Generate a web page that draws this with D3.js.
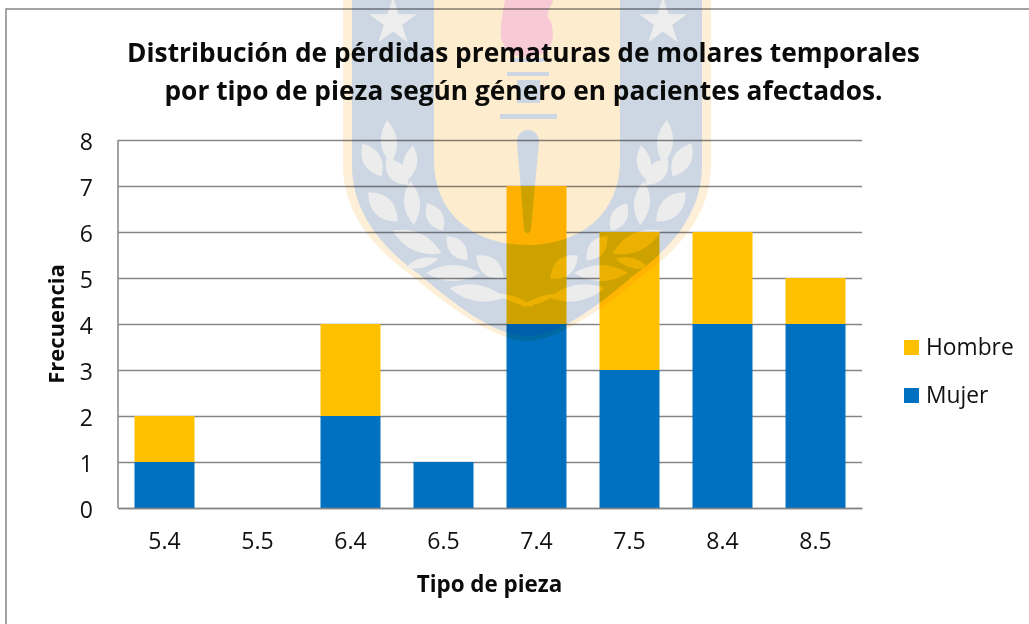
<!DOCTYPE html>
<html>
<head>
<meta charset="utf-8">
<script src="https://cdn.jsdelivr.net/npm/d3@7"></script>
<style>
  html, body { margin: 0; padding: 0; background: #fff; }
  svg { display: block; font-family: "Open Sans", sans-serif; }
</style>
</head>
<body>
<div id="chart"></div>
<script>
const categories = ["5.4", "5.5", "6.4", "6.5", "7.4", "7.5", "8.4", "8.5"];
const mujer = [1, 0, 2, 1, 4, 3, 4, 4];
const hombre = [1, 0, 2, 0, 3, 3, 2, 1];
const yTicks = [0, 1, 2, 3, 4, 5, 6, 7, 8];
const titleLines = ["Distribución de pérdidas prematuras de molares temporales", "por tipo de pieza según género en pacientes afectados."];

const width = 1029, height = 624;
const margin = { top: 140, right: 167, bottom: 116, left: 118 };
const innerW = width - margin.left - margin.right;
const innerH = height - margin.top - margin.bottom;

const colors = { Mujer: "#0070c0", Hombre: "#ffc000" };

const svg = d3.select("#chart").append("svg")
    .attr("width", width)
    .attr("height", height);

// chart frame
svg.append("path")
    .attr("d", "M1029,9H6V624")
    .attr("fill", "none")
    .attr("stroke", "#868686")
    .attr("stroke-width", 1.5);

const x = d3.scaleBand().domain(categories).range([0, innerW]).paddingInner(0.355).paddingOuter(0.1775);
const y = d3.scaleLinear().domain([0, 8]).range([innerH, 0]);

const g = svg.append("g").attr("transform", `translate(${margin.left},${margin.top})`);

// y axis with gridlines
const yAxis = g.append("g").call(d3.axisLeft(y).tickValues(yTicks).tickSize(-innerW).tickPadding(25));
yAxis.selectAll("line").attr("stroke", "#868686").attr("stroke-width", 1.5);
yAxis.select(".domain").attr("stroke", "#868686").attr("stroke-width", 1.5).attr("d", `M0,0V${innerH}`);
yAxis.selectAll("text").attr("font-size", 23).attr("font-family", "Open Sans").attr("fill", "#111").attr("dy", "0.4em");

const stackData = categories.map((c, i) => ({ cat: c, Mujer: mujer[i], Hombre: hombre[i] }));
const series = d3.stack().keys(["Mujer", "Hombre"])(stackData);

g.selectAll(".serie")
    .data(series)
    .enter().append("g")
    .attr("class", "serie")
    .attr("fill", d => colors[d.key])
    .selectAll("rect")
    .data(d => d)
    .enter().append("rect")
    .attr("x", d => x(d.data.cat))
    .attr("width", x.bandwidth())
    .attr("y", d => y(d[1]))
    .attr("height", d => y(d[0]) - y(d[1]));

// x axis
const xAxis = g.append("g")
    .attr("transform", `translate(0,${innerH})`)
    .call(d3.axisBottom(x).tickSize(0).tickPadding(25));
xAxis.select(".domain").attr("stroke", "#868686").attr("stroke-width", 1.5);
xAxis.selectAll("text").attr("font-size", 23).attr("font-family", "Open Sans").attr("fill", "#111");

// titles
svg.selectAll(".title")
    .data(titleLines)
    .enter().append("text")
    .attr("class", "title")
    .attr("x", 523.5)
    .attr("y", (d, i) => 62 + i * 38)
    .attr("text-anchor", "middle")
    .attr("font-size", 26.3)
    .attr("font-weight", 700)
    .attr("fill", "#0b0b0b")
    .text(d => d);

svg.append("text")
    .attr("x", 489.5).attr("y", 592)
    .attr("text-anchor", "middle")
    .attr("font-size", 22.4).attr("font-weight", 700).attr("fill", "#0b0b0b")
    .text("Tipo de pieza");

svg.append("text")
    .attr("transform", "translate(64,324) rotate(-90)")
    .attr("text-anchor", "middle")
    .attr("font-size", 22).attr("font-weight", 700).attr("fill", "#0b0b0b")
    .text("Frecuencia");

// legend
const legendItems = ["Hombre", "Mujer"];
const legend = svg.selectAll(".legend")
    .data(legendItems)
    .enter().append("g")
    .attr("class", "legend")
    .attr("transform", (d, i) => `translate(904,${340 + i * 48})`);
legend.append("rect").attr("width", 15).attr("height", 15).attr("fill", d => colors[d]);
legend.append("text")
    .attr("x", 22).attr("y", 15)
    .attr("font-size", 22.8).attr("fill", "#111")
    .text(d => d);

// watermark crest laid over the chart
const mark = svg.append("g").style("mix-blend-mode", "multiply").attr("pointer-events", "none");
const cx = 527;
const shieldEdge = (l, r, b) => `M${l},0V165C${l},215 ${l + 33},250 ${l + 68},275C${l + 103},305 ${cx - 32},${b} ${cx},${b}` +
    `C${cx + 32},${b} ${r - 103},305 ${r - 68},275C${r - 33},250 ${r},215 ${r},165V0Z`;
mark.append("path").attr("d", shieldEdge(343, 711, 341)).attr("fill", "#fef0d8");
mark.append("path").attr("d", shieldEdge(352, 702, 336)).attr("fill", "#cdd7e4");
mark.append("path")
    .attr("d", `M434,0V160C434,215 475,245 ${cx},245C579,245 620,215 620,160V0Z`)
    .attr("fill", "#feecce");

// stars
const star = d3.symbol().type(d3.symbolStar).size(700);
[393, 663].forEach(sx => {
    mark.append("path").attr("d", star()).attr("transform", `translate(${sx},22)`).attr("fill", "#ededed");
});

// flame and torch
mark.append("path")
    .attr("d", "M505,0C502,15 500,30 501,38C505,52 515,58 527,57C540,58 552,50 553,35C553,25 550,18 548,18C546,10 553,5 553,0Z")
    .attr("fill", "#f7cad5");
mark.append("path").attr("d", "M510,58H546L543,62H513Z").attr("fill", "#cdd7e4");
mark.append("path").attr("d", "M507,72H549V76H507Z").attr("fill", "#cdd7e4");
mark.append("path").attr("d", "M517,80H540V103H517Z").attr("fill", "#cdd7e4");
mark.append("path").attr("d", "M500,114H557V119H500Z").attr("fill", "#cdd7e4");
mark.append("path")
    .attr("d", "M517,142C517,126 539,126 539,142L531,228C531,235 524,235 524,228Z")
    .attr("fill", "#cdd7e4");

// laurel leaves on the left, as [dx from centre, y, half length, half width, angle]
const leavesLeft = [
    [-138, 142, 22, 8, 85], [-155, 160, 19, 9, 60], [-130, 172, 17, 9, 50], [-117, 163, 18, 7, 100],
    [-144, 207, 21, 10, 45], [-115, 203, 22, 8, 85], [-92, 217, 16, 8, 60], [-110, 242, 27, 9, 25],
    [-70, 248, 16, 8, 50], [-105, 263, 17, 5, -15], [-74, 273, 27, 8, 0], [-37, 267, 18, 9, 40],
    [-50, 293, 28, 8, 10], [-12, 300, 20, 3, 20]
];
const leaves = leavesLeft.concat(leavesLeft.map(d => [-d[0], d[1], d[2], d[3], 180 - d[4]]));
mark.selectAll(".leaf")
    .data(leaves)
    .enter().append("path")
    .attr("class", "leaf")
    .attr("d", d => `M${-d[2]},0Q0,${-d[3] * 2} ${d[2]},0Q0,${d[3] * 2} ${-d[2]},0Z`)
    .attr("transform", d => `translate(${cx + d[0]},${d[1]}) rotate(${d[4]})`)
    .attr("fill", "#ececec");
</script>
</body>
</html>
